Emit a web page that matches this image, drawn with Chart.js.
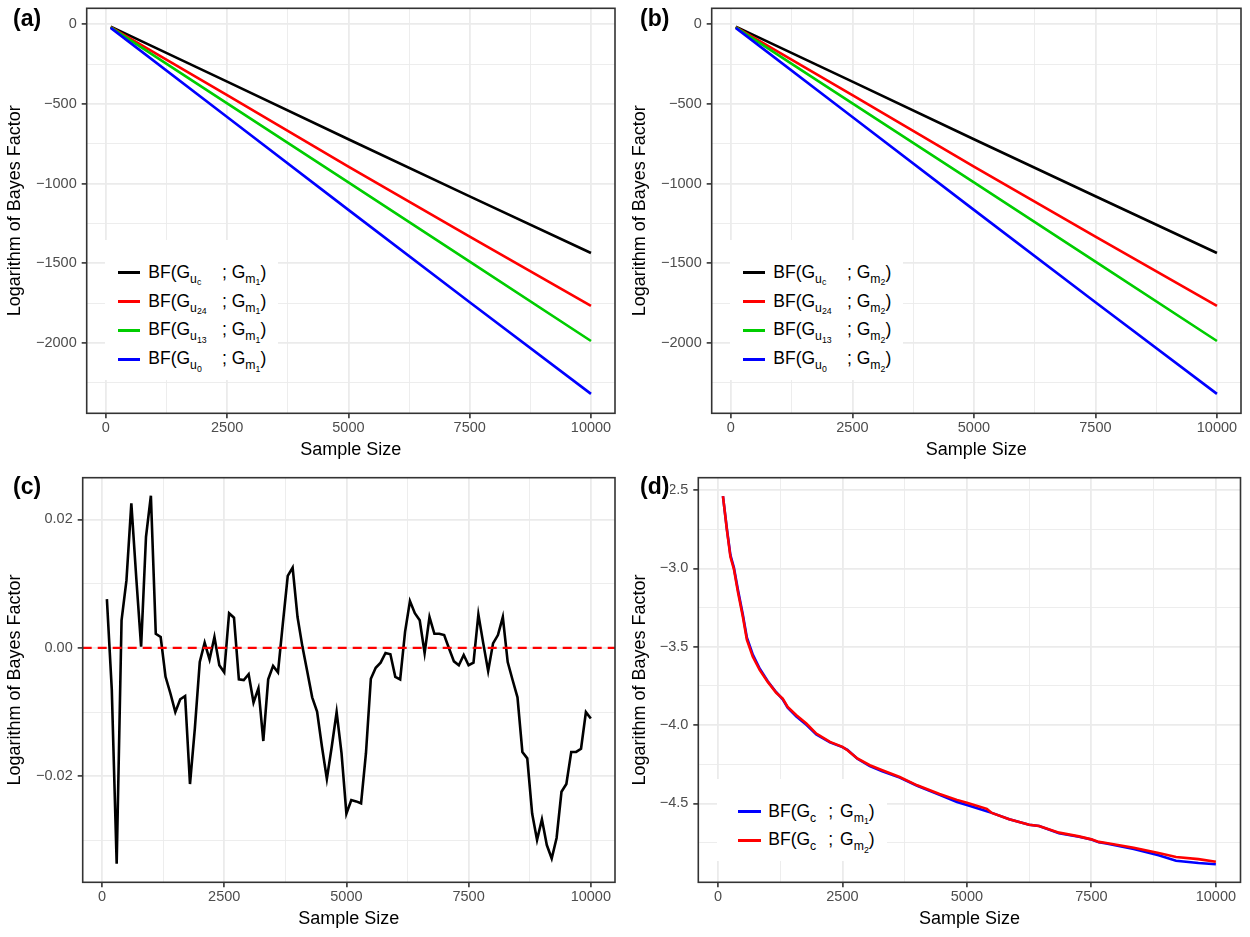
<!DOCTYPE html>
<html>
<head>
<meta charset="utf-8">
<script src="https://cdn.jsdelivr.net/npm/chart.js@4.4.1/dist/chart.umd.min.js"></script>
<style>
  html, body { margin: 0; padding: 0; background: #ffffff; }
  body { width: 1250px; height: 937px; position: relative; overflow: hidden;
         font-family: "Liberation Sans", Arial, Helvetica, sans-serif; }
  canvas.cv { position: absolute; }
  .plab { position: absolute; font-weight: bold; font-size: 23px; line-height: 23px; color: #000; background: #fff; padding: 0 1px 0 0; }
  .leg { position: absolute; background: #ffffff; }
  .key { position: absolute; height: 3px; }
  .row { position: absolute; height: 28px; line-height: 28px; white-space: nowrap; font-size: 17.5px; color: #000; }
  .s1 { font-size: 12.25px; position: relative; top: 5px; }
  .s2 { font-size: 8.75px; position: relative; top: 2.5px; }
  .fix { display: inline-block; }
</style>
</head>
<body>
<canvas id="ca" class="cv" width="625" height="468" style="left:0px;top:0px"></canvas>
<canvas id="cb" class="cv" width="625" height="468" style="left:625px;top:0px"></canvas>
<canvas id="cc" class="cv" width="625" height="469" style="left:0px;top:468px"></canvas>
<canvas id="cd" class="cv" width="625" height="469" style="left:625px;top:468px"></canvas>
<div id="overlay"></div>
<script>
// ---------- shared axis data ----------
const sampleSizeTicks  = [0, 2500, 5000, 7500, 10000];
const sampleSizeMinor  = [1250, 3750, 6250, 8750];
const sampleSizeLabels = ['0', '2500', '5000', '7500', '10000'];
const sampleSizeLimits = [-395, 10495];
const xTitle = 'Sample Size';
const yTitle = 'Logarithm of Bayes Factor';

// ---------- panel (a) ----------
const sizesA  = [100, 2500, 5000, 7500, 10000];
const bfUcM1  = [-15, -360, -722, -1080, -1436];
const bfU24M1 = [-18, -445, -893, -1333, -1768];
const bfU13M1 = [-20, -497, -993, -1490, -1988];
const bfU0M1  = [-23, -582, -1165, -1745, -2320];

// ---------- panel (b) ----------
const sizesB  = [100, 2500, 5000, 7500, 10000];
const bfUcM2  = [-15, -360, -722, -1080, -1436];
const bfU24M2 = [-18, -445, -893, -1333, -1768];
const bfU13M2 = [-20, -497, -993, -1490, -1988];
const bfU0M2  = [-23, -582, -1165, -1745, -2320];

const yTicksAB  = [0, -500, -1000, -1500, -2000];
const yMinorAB  = [-250, -750, -1250, -1750, -2250];
const yLabelsAB = ['0', '\u2212500', '\u22121000', '\u22121500', '\u22122000'];
const yLimitsAB = [-2442, 100];

const seriesSubsAB   = ['c', '24', '13', '0'];
const seriesColorsAB = ['#000000', '#FF0000', '#00CD00', '#0000FF'];

// ---------- panel (c) ----------
const sizesC = [100,200,300,400,500,600,700,800,900,1000,
  1100,1200,1300,1400,1500,1600,1700,1800,1900,2000,
  2100,2200,2300,2400,2500,2600,2700,2800,2900,3000,
  3100,3200,3300,3400,3500,3600,3700,3800,3900,4000,
  4100,4200,4300,4400,4500,4600,4700,4800,4900,5000,
  5100,5200,5300,5400,5500,5600,5700,5800,5900,6000,
  6100,6200,6300,6400,6500,6600,6700,6800,6900,7000,
  7100,7200,7300,7400,7500,7600,7700,7800,7900,8000,
  8100,8200,8300,8400,8500,8600,8700,8800,8900,9000,
  9100,9200,9300,9400,9500,9600,9700,9800,9900,10000];
const bfDiffC = [0.0076,-0.0065,-0.0336,0.0043,0.0105,0.0225,0.0110,0.0002,0.0173,0.0237,
  0.0022,0.0017,-0.0045,-0.0071,-0.0100,-0.0080,-0.0075,-0.0212,-0.0125,-0.0022,
  0.0008,-0.0018,0.0017,-0.0027,-0.0038,0.0054,0.0047,-0.0049,-0.0050,-0.0041,
  -0.0085,-0.0063,-0.0145,-0.0049,-0.0028,-0.0038,0.0038,0.0112,0.0125,0.0048,
  0.0002,-0.0037,-0.0077,-0.0099,-0.0154,-0.0204,-0.0154,-0.0100,-0.0164,-0.0258,
  -0.0237,-0.0239,-0.0242,-0.0164,-0.0048,-0.0031,-0.0023,-0.0008,-0.0010,-0.0045,
  -0.0049,0.0025,0.0073,0.0054,0.0043,-0.0008,0.0048,0.0022,0.0022,0.0020,
  -0.0001,-0.0021,-0.0027,-0.0011,-0.0027,-0.0023,0.0052,0.0007,-0.0036,0.0007,
  0.0020,0.0048,-0.0022,-0.0050,-0.0077,-0.0162,-0.0172,-0.0258,-0.0299,-0.0267,
  -0.0307,-0.0328,-0.0296,-0.0224,-0.0212,-0.0162,-0.0162,-0.0157,-0.0100,-0.0110];
const refLineC = 0;
const yTicksC  = [0.02, 0, -0.02];
const yMinorC  = [0.01, -0.01, -0.03];
const yLabelsC = ['0.02', '0.00', '\u22120.02'];
const yLimitsC = [-0.0365, 0.0265];

// ---------- panel (d) ----------
const sizesD = [100,180,250,320,400,500,580,700,840,1000,1170,1300,1400,1575,1775,1975,2250,2500,2600,2800,
  3050,3300,3650,4000,4450,4800,5000,5400,5500,5850,6250,6450,6850,7250,7500,7650,7800,8350,8850,9200,9650,10000];
const bfCM1 = [-2.538,-2.750,-2.915,-2.995,-3.135,-3.295,-3.440,-3.550,-3.640,-3.720,-3.790,-3.835,-3.888,-3.945,-3.998,-4.060,-4.110,-4.140,-4.158,-4.215,
  -4.262,-4.295,-4.335,-4.387,-4.445,-4.490,-4.510,-4.550,-4.560,-4.600,-4.636,-4.644,-4.690,-4.712,-4.730,-4.748,-4.755,-4.790,-4.830,-4.865,-4.880,-4.888];
const bfCM2 = [-2.538,-2.755,-2.926,-3.004,-3.149,-3.309,-3.454,-3.564,-3.649,-3.724,-3.794,-3.830,-3.884,-3.937,-3.990,-4.054,-4.107,-4.139,-4.160,-4.213,
  -4.256,-4.288,-4.331,-4.384,-4.440,-4.477,-4.496,-4.534,-4.560,-4.600,-4.636,-4.644,-4.686,-4.710,-4.729,-4.745,-4.752,-4.782,-4.816,-4.842,-4.855,-4.872];
const yTicksD  = [-2.5, -3.0, -3.5, -4.0, -4.5];
const yMinorD  = [-2.75, -3.25, -3.75, -4.25, -4.75];
const yLabelsD = ['\u22122.5', '\u22123.0', '\u22123.5', '\u22124.0', '\u22124.5'];
const yLimitsD = [-5.003, -2.421];
const seriesColorsD = ['#0000FF', '#FF0000'];

// ---------- helpers ----------
const FONT = '"Liberation Sans", Arial, Helvetica, sans-serif';

const panelBorder = {
  id: 'panelBorder',
  afterDraw(chart) {
    const { ctx, chartArea: a } = chart;
    ctx.save();
    ctx.strokeStyle = '#333333';
    ctx.lineWidth = 1.6;
    ctx.strokeRect(a.left, a.top, a.right - a.left, a.bottom - a.top);
    ctx.restore();
  }
};

function pts(xs, ys) { return xs.map((x, i) => ({ x: x, y: ys[i] })); }

function axis(major, minor, labels, limits, fit, titleOpts, tickPad) {
  return {
    type: 'linear',
    min: limits[0], max: limits[1],
    afterBuildTicks: s => {
      s.ticks = major.concat(minor).sort((p, q) => p - q).map(v => ({ value: v }));
    },
    afterFit: s => {
      fit(s);
      s.paddingLeft = 0; s.paddingRight = 0; s.paddingTop = 0; s.paddingBottom = 0;
    },
    ticks: {
      autoSkip: false, maxRotation: 0, minRotation: 0, padding: tickPad,
      color: '#4D4D4D', font: { family: FONT, size: 14.5 },
      callback: v => { const i = major.indexOf(v); return i >= 0 ? labels[i] : ''; }
    },
    grid: {
      color: '#EBEBEB',
      lineWidth: c => (c.tick && major.indexOf(c.tick.value) >= 0) ? 1.8 : 0.9,
      tickLength: 5,
      tickColor: c => (c.tick && major.indexOf(c.tick.value) >= 0) ? '#333333' : 'rgba(0,0,0,0)',
      tickWidth: 1.6
    },
    border: { display: false },
    title: titleOpts
  };
}

function makeChart(id, o) {
  return new Chart(document.getElementById(id), {
    type: 'line',
    data: { datasets: o.datasets },
    options: {
      responsive: false, animation: false, devicePixelRatio: 1, events: [],
      layout: { autoPadding: false, padding: o.padding },
      plugins: { legend: { display: false }, tooltip: { enabled: false } },
      elements: { point: { radius: 0 }, line: { tension: 0 } },
      scales: {
        x: axis(sampleSizeTicks, sampleSizeMinor, sampleSizeLabels, sampleSizeLimits,
                s => { s.height = o.xAxisHeight; },
                { display: true, text: xTitle, color: '#000', font: { family: FONT, size: 18 }, padding: { top: 0, bottom: 7.5 } }, 1),
        y: axis(o.yMajor, o.yMinor, o.yLabels, o.yLimits,
                s => { s.width = o.yAxisWidth; },
                { display: true, text: yTitle, color: '#000', font: { family: FONT, size: 18 }, padding: { top: 4, bottom: 0 } }, 5)
      }
    },
    plugins: [panelBorder]
  });
}

function ds(xs, ys, color, extra) {
  return Object.assign({ data: pts(xs, ys), borderColor: color, backgroundColor: color,
    borderWidth: 2.6, pointRadius: 0, fill: false }, extra || {});
}

// (a)
makeChart('ca', {
  padding: { left: 0, top: 8.3, right: 10, bottom: 0 }, yAxisWidth: 86.7, xAxisHeight: 54.7,
  yMajor: yTicksAB, yMinor: yMinorAB, yLabels: yLabelsAB, yLimits: yLimitsAB,
  datasets: [
    ds(sizesA, bfU0M1,  seriesColorsAB[3]),
    ds(sizesA, bfU13M1, seriesColorsAB[2]),
    ds(sizesA, bfU24M1, seriesColorsAB[1]),
    ds(sizesA, bfUcM1,  seriesColorsAB[0])
  ]
});
// (b)
makeChart('cb', {
  padding: { left: 0, top: 8.3, right: 9, bottom: 0 }, yAxisWidth: 86.7, xAxisHeight: 54.7,
  yMajor: yTicksAB, yMinor: yMinorAB, yLabels: yLabelsAB, yLimits: yLimitsAB,
  datasets: [
    ds(sizesB, bfU0M2,  seriesColorsAB[3]),
    ds(sizesB, bfU13M2, seriesColorsAB[2]),
    ds(sizesB, bfU24M2, seriesColorsAB[1]),
    ds(sizesB, bfUcM2,  seriesColorsAB[0])
  ]
});
// (c)
makeChart('cc', {
  padding: { left: 0, top: 9.7, right: 10, bottom: 0 }, yAxisWidth: 82.7, xAxisHeight: 54.7,
  yMajor: yTicksC, yMinor: yMinorC, yLabels: yLabelsC, yLimits: yLimitsC,
  datasets: [
    ds(sampleSizeLimits, sampleSizeLimits.map(() => refLineC), '#FF0000', { borderDash: [9, 6], borderWidth: 2.4 }),
    ds(sizesC, bfDiffC, '#000000')
  ]
});
// (d)
makeChart('cd', {
  padding: { left: 0, top: 9.7, right: 9.5, bottom: 0 }, yAxisWidth: 73.3, xAxisHeight: 54.7,
  yMajor: yTicksD, yMinor: yMinorD, yLabels: yLabelsD, yLimits: yLimitsD,
  datasets: [
    ds(sizesD, bfCM2, seriesColorsD[1]),
    ds(sizesD, bfCM1, seriesColorsD[0])
  ]
});

// ---------- HTML overlay: panel tags and legends (with subscripts) ----------
const overlay = document.getElementById('overlay');
function el(tag, cls, style, html) {
  const e = document.createElement(tag);
  if (cls) e.className = cls;
  if (style) e.setAttribute('style', style);
  if (html != null) e.innerHTML = html;
  return e;
}
[['(a)', 13, 7], ['(b)', 640, 7], ['(c)', 13, 475], ['(d)', 640, 475]].forEach(p => {
  overlay.appendChild(el('div', 'plab', `left:${p[1]}px;top:${p[2]}px`, p[0]));
});

function bfUModel(sub, mSub) {
  return `BF(G<span class="fix" style="width:27px"><span class="s1">u<span class="s2">${sub}</span></span></span> ; G<span class="s1">m<span class="s2">${mSub}</span></span>)`;
}
function bfCModel(mSub) {
  return `BF(G<span class="s1">c</span><span style="margin-left:12px">;</span><span style="margin-left:7px">G</span><span class="s1">m<span class="s2">${mSub}</span></span>)`;
}
function legend(box, rows, keyLeft, keyWidth, textLeft, rowCenters) {
  const L = el('div', 'leg', `left:${box[0]}px;top:${box[1]}px;width:${box[2]}px;height:${box[3]}px`);
  rows.forEach((r, i) => {
    const c = rowCenters[i];
    L.appendChild(el('div', 'key', `left:${Math.round(keyLeft)}px;width:${Math.round(keyWidth)}px;top:${Math.round(c - 1.5)}px;background:${r.color}`));
    L.appendChild(el('div', 'row', `left:${textLeft}px;top:${c - 15}px`, r.html));
  });
  overlay.appendChild(L);
}
const rowsAB = [32.7, 61.5, 90.3, 119];
legend([105, 240, 173, 140], seriesSubsAB.map((s, i) => ({ color: seriesColorsAB[i], html: bfUModel(s, '1') })), 13.3, 21.7, 43.3, rowsAB);
legend([730, 240, 173, 140], seriesSubsAB.map((s, i) => ({ color: seriesColorsAB[i], html: bfUModel(s, '2') })), 13.3, 21.7, 43.3, rowsAB);
legend([717, 779, 170, 82], ['1', '2'].map((m, i) => ({ color: seriesColorsD[i], html: bfCModel(m) })), 21.3, 23.4, 51.3, [32.7, 61]);
</script>
</body>
</html>
